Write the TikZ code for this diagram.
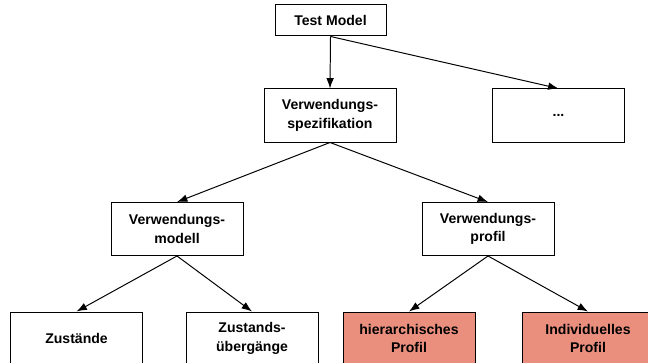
\documentclass[tikz,border=0pt]{standalone}
\usepackage{fontspec}
\setmainfont{Liberation Sans}
\usetikzlibrary{arrows.meta}
\definecolor{salmon}{RGB}{234,143,126}
\begin{document}
\begin{tikzpicture}[
    x=1cm,y=1cm,
    every node/.style={font=\fontsize{10}{13}\selectfont\bfseries, align=center},
    box/.style={draw=black, line width=0.7pt, inner sep=0pt, minimum width=3.30cm, minimum height=1.325cm, fill=white},
    top/.style={box, minimum width=2.775cm, minimum height=0.775cm},
    prof/.style={box, fill=salmon},
    link/.style={-{Latex[length=2.6mm,width=1.9mm]}, line width=0.7pt}
]
    \useasboundingbox (0,0) rectangle (16.2,9.075);
    \clip (0,0) rectangle (16.2,9.075);

    \node[top] (test) at (8.2625,8.5625) {Test Model};

    \node[box] (spec) at (8.25,6.1875) {Verwendungs-\\spezifikation};
    \node[box] (dots) at (13.9625,6.1875) {...};

    \node[box] (umodell) at (4.425,3.35) {Verwendungs-\\modell};
    \node[box] (uprofil) at (12.20,3.35) {Verwendungs-\\profil};

    \node[box] (zust) at (1.9125,0.6125) {Zustände};
    \node[box] (uebg) at (6.30,0.6125) {Zustands-\\übergänge};
    \node[prof] (hier) at (10.225,0.6125) {hierarchisches\\Profil};
    \node[prof] (indiv) at (14.70,0.6125) {Individuelles\\Profil};

    \draw[link] (test.south) -- (spec.north);
    \draw[link] (test.south) -- (dots.north);
    \draw[link] (spec.south) -- (umodell.north);
    \draw[link] (spec.south) -- (uprofil.north);
    \draw[link] (umodell.south) -- (zust.north);
    \draw[link] (umodell.south) -- (uebg.north);
    \draw[link] (uprofil.south) -- (hier.north);
    \draw[link] (uprofil.south) -- (indiv.north);
\end{tikzpicture}
\end{document}
